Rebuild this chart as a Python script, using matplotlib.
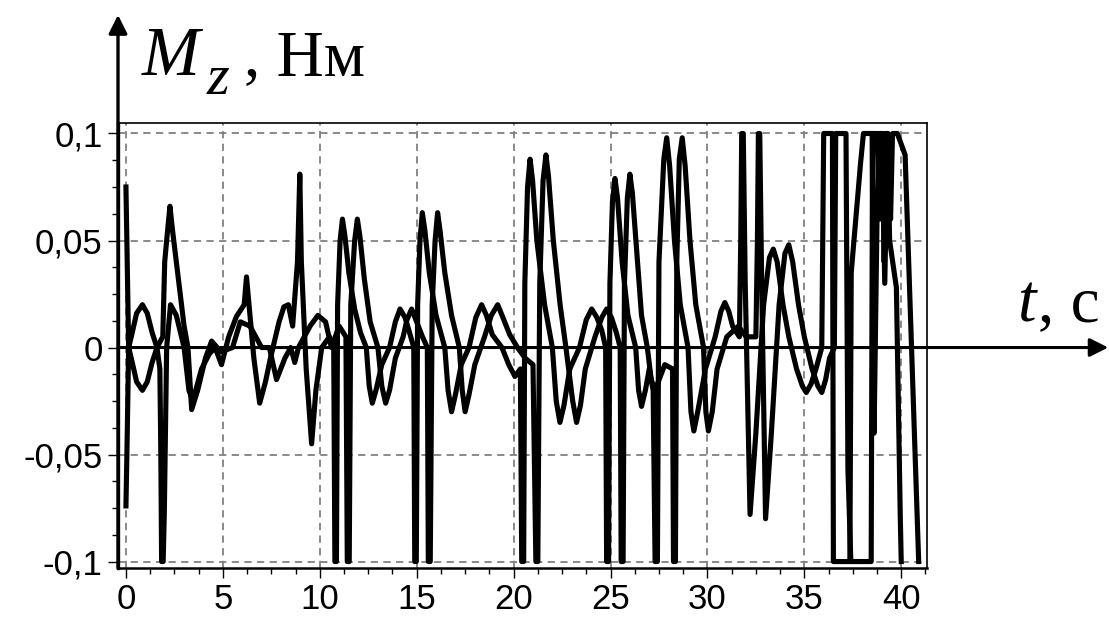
import matplotlib
matplotlib.use('Agg')
import matplotlib.pyplot as plt
from matplotlib.ticker import AutoMinorLocator

plt.rcParams['font.family'] = ['Liberation Sans', 'DejaVu Sans']

# first torque curve, t in s, M in N*m
t1 = [0.0, 0.06, 0.14, 0.3, 0.55, 0.85, 1.1, 1.35, 1.6, 1.75,
      1.8, 1.84, 1.92, 1.98, 2.1, 2.3, 2.6, 3.0, 3.25, 3.45,
      3.9, 4.3, 4.6, 4.93, 5.3, 5.7, 6.1, 6.22, 6.35, 6.6,
      6.9, 7.2, 7.43, 7.9, 8.15, 8.38, 8.6, 8.85, 8.97, 9.05,
      9.3, 9.58, 9.8, 10.1, 10.5, 10.72, 10.78, 10.86, 10.92, 11.05,
      11.17, 11.3, 11.5, 11.8, 12.1, 12.4, 12.55, 12.71, 12.9, 13.2,
      13.6, 13.9, 14.14, 14.4, 14.6, 14.85, 14.9, 14.98, 15.05, 15.17,
      15.29, 15.42, 15.65, 16.0, 16.3, 16.45, 16.62, 16.8, 17.0, 17.3,
      17.7, 18.05, 18.35, 18.6, 18.9, 19.4, 19.75, 20.07, 20.35, 20.42,
      20.52, 20.58, 20.72, 20.85, 20.98, 21.2, 21.6, 22.0, 22.2, 22.39,
      22.6, 22.9, 23.4, 23.75, 24.03, 24.3, 24.55, 24.75, 24.8, 24.9,
      24.97, 25.1, 25.23, 25.36, 25.6, 25.9, 26.3, 26.45, 26.6, 26.8,
      27.0, 27.2, 27.3, 27.42, 27.5, 27.75, 27.9, 28.05, 28.3, 28.6,
      29.0, 29.15, 29.3, 29.5, 29.9, 30.4, 30.7, 30.9, 31.1, 31.3,
      31.65, 31.72, 31.77, 31.85, 31.95, 32.2, 32.5, 32.9, 33.2, 33.4,
      33.6, 33.9, 34.2, 34.6, 34.9, 35.1, 35.35, 35.6, 35.9, 35.95,
      36.0, 36.45, 36.5, 37.35, 37.42, 37.9, 38.05, 38.5, 38.6, 38.75,
      38.85, 39.05, 39.12, 39.2, 39.3, 39.4, 39.75, 39.95, 40.0]
m1 = [0.075, 0.044, 0.0, 0.006, 0.016, 0.02, 0.016, 0.007, 0.0, -0.01,
      -0.05, -0.1, -0.1, -0.077, 0.0, 0.02, 0.015, 0.0, -0.02, -0.025,
      -0.01, -0.003, 0.0, -0.008, 0.005, 0.0145, 0.02, 0.033, 0.02, -0.005,
      -0.026, -0.016, -0.006, 0.012, 0.019, 0.02, 0.01, 0.04, 0.081, 0.04,
      -0.01, -0.045, -0.02, 0.0, 0.005, 0.0, -0.1, -0.1, 0.02, 0.05,
      0.06, 0.052, 0.035, 0.018, 0.007, 0.0, -0.018, -0.026, -0.02, -0.008,
      0.0, 0.012, 0.018, 0.014, 0.008, 0.0, -0.1, -0.1, 0.02, 0.05,
      0.063, 0.055, 0.035, 0.015, 0.005, 0.0, -0.02, -0.03, -0.022, -0.008,
      0.0, 0.014, 0.02, 0.015, 0.006, 0.0, -0.008, -0.0135, -0.01, -0.1,
      -0.1, 0.03, 0.075, 0.088, 0.078, 0.05, 0.02, 0.0, -0.025, -0.035,
      -0.027, -0.01, 0.0, 0.013, 0.018, 0.014, 0.008, 0.0, -0.1, -0.1,
      0.03, 0.068, 0.079, 0.07, 0.04, 0.015, 0.0, -0.02, -0.0275, -0.02,
      -0.01, -0.02, -0.1, -0.1, 0.04, 0.088, 0.098, 0.085, 0.05, 0.02,
      0.0, -0.03, -0.039, -0.03, -0.01, 0.005, 0.017, 0.021, 0.017, 0.01,
      0.005, 0.05, 0.1, 0.1, 0.03, -0.078, -0.04, 0.02, 0.042, 0.046,
      0.04, 0.02, 0.005, -0.01, -0.018, -0.021, -0.017, -0.01, 0.0, 0.049,
      0.1, 0.1, -0.1, -0.1, 0.035, 0.086, 0.1, 0.1, -0.04, 0.06,
      0.1, 0.1, 0.04, 0.1, 0.1, 0.05, 0.028, -0.079, -0.1]

# second torque curve
t2 = [0.0, 0.06, 0.14, 0.3, 0.55, 0.85, 1.1, 1.35, 1.6, 1.9,
      2.0, 2.1, 2.27, 2.4, 2.6, 3.0, 3.2, 3.39, 3.7, 4.1,
      4.42, 4.9, 5.5, 5.9, 6.4, 7.0, 7.4, 7.77, 8.2, 8.5,
      8.71, 8.9, 9.2, 9.5, 9.9, 10.3, 10.6, 11.0, 11.35, 11.42,
      11.52, 11.6, 11.8, 11.94, 12.07, 12.3, 12.6, 13.0, 13.2, 13.4,
      13.6, 13.9, 14.3, 14.5, 14.74, 15.0, 15.3, 15.55, 15.6, 15.7,
      15.8, 15.95, 16.08, 16.2, 16.45, 16.8, 17.2, 17.35, 17.5, 17.7,
      18.0, 18.5, 18.85, 19.18, 19.45, 19.8, 20.2, 20.6, 21.0, 21.15,
      21.25, 21.35, 21.52, 21.67, 21.8, 22.05, 22.4, 22.7, 23.05, 23.25,
      23.45, 23.7, 24.2, 24.55, 24.8, 25.05, 25.3, 25.5, 25.55, 25.65,
      25.72, 25.87, 26.0, 26.13, 26.35, 26.6, 26.9, 27.1, 27.3, 27.55,
      27.8, 28.2, 28.25, 28.35, 28.42, 28.55, 28.7, 28.85, 29.1, 29.4,
      29.8, 29.92, 30.05, 30.25, 30.5, 31.0, 31.6, 32.0, 32.5, 32.58,
      32.63, 32.7, 32.8, 33.0, 33.3, 33.7, 34.0, 34.2, 34.4, 34.7,
      35.0, 35.4, 35.7, 35.9, 36.1, 36.3, 36.55, 36.62, 37.15, 37.25,
      37.4, 38.45, 38.52, 38.75, 38.9, 39.0, 39.15, 39.3, 39.45, 39.55,
      39.8, 40.2, 40.9]
m2 = [-0.074, -0.044, 0.0, -0.006, -0.016, -0.02, -0.016, -0.007, 0.0, 0.005,
      0.04, 0.05, 0.066, 0.055, 0.04, 0.01, 0.0, -0.029, -0.02, -0.005,
      0.003, -0.002, 0.0, 0.012, 0.01, 0.0, 0.0, -0.015, -0.005, 0.0,
      -0.007, 0.0, 0.005, 0.01, 0.015, 0.012, 0.0, 0.01, 0.005, -0.1,
      -0.1, 0.02, 0.05, 0.06, 0.052, 0.032, 0.012, 0.0, -0.018, -0.026,
      -0.02, -0.005, 0.005, 0.013, 0.018, 0.012, 0.005, 0.0, -0.1, -0.1,
      0.02, 0.05, 0.063, 0.055, 0.035, 0.015, 0.0, -0.02, -0.03, -0.022,
      -0.008, 0.005, 0.015, 0.02, 0.014, 0.006, 0.0, -0.005, -0.008, -0.1,
      -0.1, 0.03, 0.078, 0.09, 0.08, 0.05, 0.02, 0.0, -0.025, -0.035,
      -0.027, -0.01, 0.005, 0.014, 0.018, 0.014, 0.007, 0.0, -0.1, -0.1,
      0.03, 0.07, 0.081, 0.072, 0.045, 0.015, 0.0, -0.015, -0.02, -0.014,
      -0.008, -0.01, -0.1, -0.1, 0.04, 0.088, 0.098, 0.085, 0.05, 0.02,
      0.0, -0.03, -0.039, -0.03, -0.01, 0.005, 0.01, 0.005, 0.005, 0.05,
      0.1, 0.1, 0.03, -0.08, -0.04, 0.02, 0.044, 0.048, 0.04, 0.02,
      0.005, -0.01, -0.018, -0.021, -0.015, -0.005, 0.0, 0.1, 0.1, -0.057,
      -0.1, -0.1, 0.1, 0.1, 0.06, 0.1, 0.03, 0.1, 0.06, 0.1,
      0.1, 0.09, -0.1]

xticks = [0, 5, 10, 15, 20, 25, 30, 35, 40]
yticks = [-0.1, -0.05, 0, 0.05, 0.1]
ylabels = ['-0,1', '-0,05', '0', '0,05', '0,1']

W, H = 1109, 626
fig = plt.figure(figsize=(W / 100, H / 100), dpi=100)
ax = fig.add_axes([0.1064, 0.0927, 0.7295, 0.7108])

ax.plot(t1, m1, color='black', lw=3.7, zorder=3)
ax.plot(t2, m2, color='black', lw=3.7, zorder=3)

ax.set_xlim(-0.41, 41.33)
ax.set_ylim(-0.103, 0.1049)
ax.set_xticks(xticks)
ax.set_xticklabels([str(x) for x in xticks])
ax.set_yticks(yticks)
ax.set_yticklabels(ylabels)
ax.xaxis.set_minor_locator(AutoMinorLocator(4))
ax.yaxis.set_minor_locator(AutoMinorLocator(4))
ax.tick_params(which='major', direction='out', length=7, width=1, labelsize=25, pad=4)
ax.tick_params(which='minor', direction='out', length=4, width=1)
ax.grid(True, which='major', color='#808080', linestyle=(0, (4, 3)), lw=1.3, zorder=1)

ax.spines['left'].set_linewidth(2.4)
ax.spines['bottom'].set_linewidth(1.8)
ax.spines['top'].set_linewidth(1.2)
ax.spines['right'].set_linewidth(1.2)

# axis arrows
ax.annotate('', xy=(1.224, 0), xycoords=ax.get_yaxis_transform(),
            xytext=(0, 0), textcoords=ax.get_yaxis_transform(),
            arrowprops=dict(arrowstyle='-|>', color='black', lw=2.2,
                            mutation_scale=28, shrinkA=0, shrinkB=0),
            annotation_clip=False, zorder=4)
ax.annotate('', xy=(0, 1.243), xycoords='axes fraction',
            xytext=(0, 0), textcoords='axes fraction',
            arrowprops=dict(arrowstyle='-|>', color='black', lw=2.4,
                            mutation_scale=28, shrinkA=0, shrinkB=0),
            annotation_clip=False, zorder=4)

# axis names, Times-like serif
serif = 'Liberation Serif'
fig.text(142 / W, 1 - 75 / H, 'M', fontsize=50, family=serif, style='italic', va='baseline')
fig.text(207 / W, 1 - 94 / H, 'z', fontsize=42, family=serif, style='italic', va='baseline')
fig.text(244 / W, 1 - 75 / H, ', Нм', fontsize=47, family=serif, va='baseline')
fig.text(1017 / W, 1 - 321 / H, 't', fontsize=48, family=serif, style='italic', va='baseline')
fig.text(1038 / W, 1 - 321 / H, ', с', fontsize=47, family=serif, va='baseline')

fig.savefig('out.png', dpi=100)
